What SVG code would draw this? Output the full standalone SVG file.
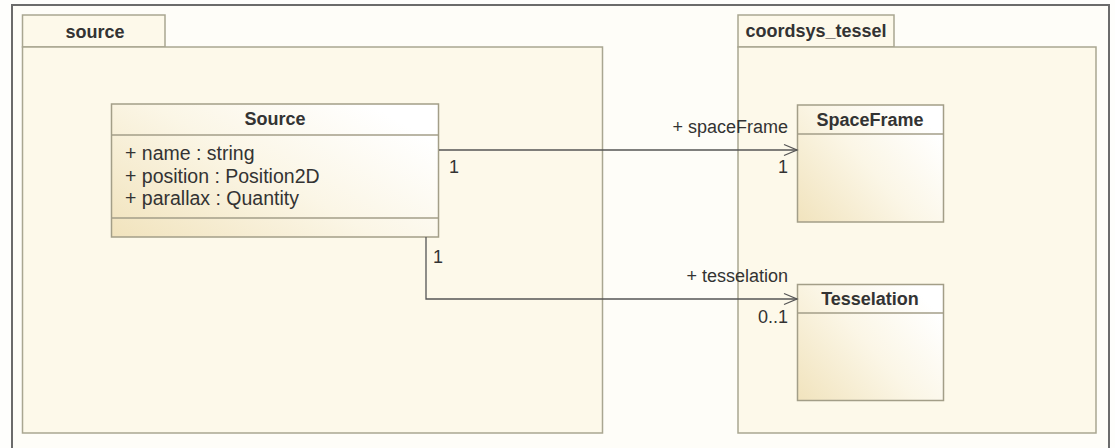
<svg xmlns="http://www.w3.org/2000/svg" width="1115" height="448" viewBox="0 0 1115 448">
<defs>
<linearGradient id="cls" x1="0" y1="1" x2="1" y2="0.3">
<stop offset="0" stop-color="#f1e3bd"/>
<stop offset="0.55" stop-color="#fbf6e6"/>
<stop offset="1" stop-color="#ffffff"/>
</linearGradient>
<marker id="open" markerWidth="16" markerHeight="14" refX="14" refY="7" orient="auto" markerUnits="userSpaceOnUse">
<path d="M1,1.5 L14,7 L1,12.5" fill="none" stroke="#555" stroke-width="1.3"/>
</marker>
<style>
.pkg{fill:#fdf9ea;stroke:#a9a691;stroke-width:1.5}
.cls{fill:url(#cls);stroke:#a39e88;stroke-width:1.5}
.sep{stroke:#a39e88;stroke-width:1.3}
.t{font-family:"Liberation Sans",Arial,sans-serif;font-size:18px;fill:#333}
.a{font-size:19.5px}
.b{font-weight:bold}
.m{text-anchor:middle}
.e{text-anchor:end}
.con{fill:none;stroke:#555;stroke-width:1.3}
</style>
</defs>
<rect x="0" y="0" width="1115" height="448" fill="#fefefc"/>
<rect id="frame" x="12" y="5" width="1097" height="460" fill="#fefdf8" stroke="#6b6b6b" stroke-width="2"/>
<g id="pkg-source">
<rect class="pkg" x="22.5" y="15" width="142.5" height="32"/>
<rect class="pkg" x="22.5" y="47" width="580" height="386"/>
<text class="t b m" x="95" y="38">source</text>
</g>
<g id="pkg-coordsys_tessel">
<rect class="pkg" x="738" y="15" width="156" height="32"/>
<rect class="pkg" x="738" y="47" width="358" height="386"/>
<text class="t b m" x="816" y="37">coordsys_tessel</text>
</g>
<g id="Source">
<rect class="cls" x="111.5" y="104" width="327" height="133"/>
<line class="sep" x1="111.5" y1="135" x2="438.5" y2="135"/>
<line class="sep" x1="111.5" y1="218" x2="438.5" y2="218"/>
<text class="t b m" x="275" y="125">Source</text>
<text class="t a" x="125" y="160">+ name : string</text>
<text class="t a" x="125" y="182.5">+ position : Position2D</text>
<text class="t a" x="125" y="205">+ parallax : Quantity</text>
</g>
<g id="SpaceFrame">
<rect class="cls" x="797.5" y="105" width="146" height="117"/>
<line class="sep" x1="797.5" y1="134" x2="943.5" y2="134"/>
<text class="t b m" x="870" y="126">SpaceFrame</text>
</g>
<g id="Tesselation">
<rect class="cls" x="797.5" y="284.5" width="146" height="116"/>
<line class="sep" x1="797.5" y1="313" x2="943.5" y2="313"/>
<text class="t b m" x="870" y="305">Tesselation</text>
</g>
<g id="connectors">
<path class="con" d="M439,150 L797,150" marker-end="url(#open)"/>
<path class="con" d="M426,237 L426,299 L797,299" marker-end="url(#open)"/>
<text class="t" x="449" y="173">1</text>
<text class="t e" x="788" y="133">+ spaceFrame</text>
<text class="t e" x="788" y="173">1</text>
<text class="t" x="433" y="263">1</text>
<text class="t e" x="788" y="282">+ tesselation</text>
<text class="t e" x="788" y="323">0..1</text>
</g>
</svg>
